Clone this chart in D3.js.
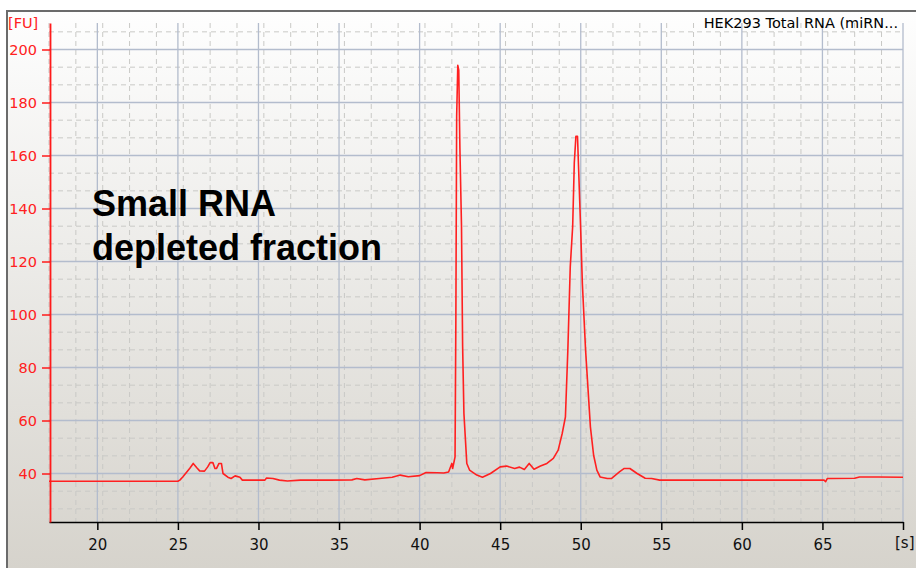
<!DOCTYPE html>
<html>
<head>
<meta charset="utf-8">
<script src="https://cdn.jsdelivr.net/npm/d3@7"></script>
<style>
  body { margin: 0; background: #ffffff; }
  svg { display: block; }
</style>
</head>
<body>
<div id="chart"></div>
<script>
// electropherogram trace
const time = [17, 25.0, 25.12, 25.3, 25.74, 25.95, 26.2, 26.35, 26.65, 26.85, 27.0, 27.17, 27.3, 27.4, 27.55, 27.7, 27.8,
  28.1, 28.3, 28.55, 28.85, 29.0, 30.4, 30.5, 30.9, 31.3, 31.8, 32.6, 34.4, 35.8, 36.1, 36.6, 37.5, 38.3, 38.8,
  39.3, 40.0, 40.4, 41.1, 41.5, 41.8, 42.0, 42.05, 42.2, 42.25, 42.3, 42.37, 42.43, 42.5, 42.6, 42.67, 42.75,
  42.93, 43.1, 43.55, 43.9, 44.4, 45.0, 45.4, 45.9, 46.2, 46.5, 46.8, 47.1, 47.5, 47.9, 48.3, 48.6, 48.85,
  49.05, 49.2, 49.35, 49.5, 49.6, 49.7, 49.8, 49.86, 50.0, 50.1, 50.3, 50.6, 50.8, 51.0, 51.2, 51.65, 51.9,
  52.4, 52.7, 53.05, 53.5, 54.0, 54.4, 54.9, 65.1, 65.2, 65.3, 65.5, 67.0, 67.3, 68.5, 70.0];
const fu = [37.1, 37.1, 37.5, 38.7, 42.0, 43.8, 42.0, 41.0, 40.9, 42.5, 44.1, 44.1, 41.9, 41.9, 43.8, 43.8, 40.0,
  38.6, 38.1, 39.1, 38.6, 37.5, 37.5, 38.3, 38.1, 37.5, 37.2, 37.5, 37.5, 37.6, 38.1, 37.6, 38.1, 38.6, 39.4,
  38.8, 39.2, 40.4, 40.3, 40.2, 40.6, 43.8, 41.9, 46.3, 97.9, 174.8, 194.0, 192.2, 163.0, 133.3, 88.0, 62.7,
  43.8, 41.3, 39.4, 38.6, 40.0, 42.5, 42.8, 41.9, 42.4, 41.5, 43.8, 41.6, 42.8, 43.8, 45.7, 48.8, 55.1,
  61.4, 86.6, 118.0, 133.3, 157.2, 167.2, 167.2, 156.5, 131.4, 111.8, 86.6, 57.6, 46.9, 41.3, 38.7, 38.1, 38.1,
  40.6, 41.9, 41.9, 40.0, 38.2, 38.1, 37.5, 37.5, 36.9, 38.1, 38.1, 38.2, 38.7, 38.7, 38.6];

const xTicks = [20, 25, 30, 35, 40, 45, 50, 55, 60, 65];
const yTicks = [40, 60, 80, 100, 120, 140, 160, 180, 200];
const title = "HEK293 Total RNA (miRN...";
const note = ["Small RNA", "depleted fraction"];

const W = 916, H = 568;
const plot = { left: 49, right: 903, top: 23, bottom: 522 };

const svg = d3.select("#chart").append("svg")
  .attr("width", W)
  .attr("height", H);

// background panel
const grad = svg.append("defs").append("linearGradient")
  .attr("id", "bg").attr("x1", 0).attr("y1", 0).attr("x2", 0).attr("y2", 1);
grad.append("stop").attr("offset", "0%").attr("stop-color", "#fefefe");
grad.append("stop").attr("offset", "45%").attr("stop-color", "#ecebe8");
grad.append("stop").attr("offset", "100%").attr("stop-color", "#d6d3cc");

svg.append("rect").attr("x", 7).attr("y", 11).attr("width", W - 7).attr("height", H - 11)
  .attr("fill", "url(#bg)");
svg.append("path")
  .attr("d", `M7,${H} V11 H${W}`)
  .attr("fill", "none").attr("stroke", "#6b6b6b").attr("stroke-width", 2);

const x = d3.scaleLinear().domain([17, 70]).range([plot.left, plot.right]);
const y = d3.scaleLinear().domain([21.7, 210]).range([plot.bottom, plot.top]);

// grid: minor dashed (thirds), major solid
const minorX = d3.range(17, 70.01, 5 / 3).filter(v => Math.abs((v % 5)) > 0.1 && Math.abs((v % 5) - 5) > 0.1);
const minorY = d3.range(200 / 3 - 60, 210, 20 / 3).filter(v => v > 21.7 && Math.abs(v % 20) > 0.1 && Math.abs((v % 20) - 20) > 0.1);

const grid = svg.append("g");
grid.selectAll(".mx").data(minorX).enter().append("line")
  .attr("x1", d => x(d)).attr("x2", d => x(d))
  .attr("y1", plot.top).attr("y2", plot.bottom)
  .attr("stroke", "#c9c9c6").attr("stroke-dasharray", "5,4");
grid.selectAll(".my").data(minorY).enter().append("line")
  .attr("x1", plot.left).attr("x2", plot.right)
  .attr("y1", d => y(d)).attr("y2", d => y(d))
  .attr("stroke", "#c9c9c6").attr("stroke-dasharray", "5,4");
grid.selectAll(".Mx").data(xTicks.concat([70])).enter().append("line")
  .attr("x1", d => x(d)).attr("x2", d => x(d))
  .attr("y1", plot.top).attr("y2", plot.bottom)
  .attr("stroke", "#b3bccd").attr("stroke-width", 1.3);
grid.selectAll(".My").data(yTicks).enter().append("line")
  .attr("x1", plot.left).attr("x2", plot.right)
  .attr("y1", d => y(d)).attr("y2", d => y(d))
  .attr("stroke", "#b3bccd").attr("stroke-width", 1.3);

// annotation
svg.append("text")
  .attr("x", 92).attr("y", 216)
  .style("font-family", "'Liberation Sans', Arial, sans-serif")
  .style("font-weight", "bold").style("font-size", "36px").attr("fill", "#000")
  .selectAll("tspan").data(note).enter().append("tspan")
  .attr("x", 92).attr("dy", (d, i) => i === 0 ? 0 : 44)
  .text(d => d);

// trace
svg.append("path")
  .datum(time.map((t, i) => [t, fu[i]]))
  .attr("d", d3.line().x(d => x(d[0])).y(d => y(d[1])))
  .attr("fill", "none")
  .attr("stroke", "#ff2020")
  .attr("stroke-width", 1.6)
  .attr("stroke-linejoin", "round");

// axes
const font = "'DejaVu Sans', Tahoma, sans-serif";
const xAxis = svg.append("g")
  .attr("transform", `translate(0,${plot.bottom})`)
  .call(d3.axisBottom(x).tickValues(xTicks.concat([70])).tickSize(8).tickSizeOuter(0)
    .tickFormat(d => d === 70 ? "" : d));
xAxis.select(".domain").attr("stroke", "#000").attr("stroke-width", 1.5);
xAxis.selectAll(".tick line").attr("stroke", "#000").attr("stroke-width", 1.5);
xAxis.selectAll(".tick text").attr("fill", "#111").attr("dy", "1.15em")
  .style("font-family", font).style("font-size", "15px");

const yAxis = svg.append("g")
  .attr("transform", `translate(${plot.left + 1},0)`)
  .call(d3.axisLeft(y).tickValues(yTicks).tickSize(8).tickSizeOuter(0).tickPadding(5));
yAxis.select(".domain").attr("stroke", "#ff1a1a").attr("stroke-width", 1.8);
yAxis.selectAll(".tick line").attr("stroke", "#ff1a1a").attr("stroke-width", 1.5);
yAxis.selectAll(".tick text").attr("fill", "#ff2020")
  .style("font-family", font).style("font-size", "14.5px");

// unit labels and title
svg.append("text").attr("x", 8).attr("y", 28).text("[FU]")
  .attr("fill", "#ff2020").style("font-family", font).style("font-size", "14.5px");
svg.append("text").attr("x", 895).attr("y", 548).text("[s]")
  .attr("fill", "#111").style("font-family", font).style("font-size", "15px");
svg.append("text").attr("x", 898).attr("y", 28).attr("text-anchor", "end").text(title)
  .attr("fill", "#000").style("font-family", font).style("font-size", "14.5px");
</script>
</body>
</html>
